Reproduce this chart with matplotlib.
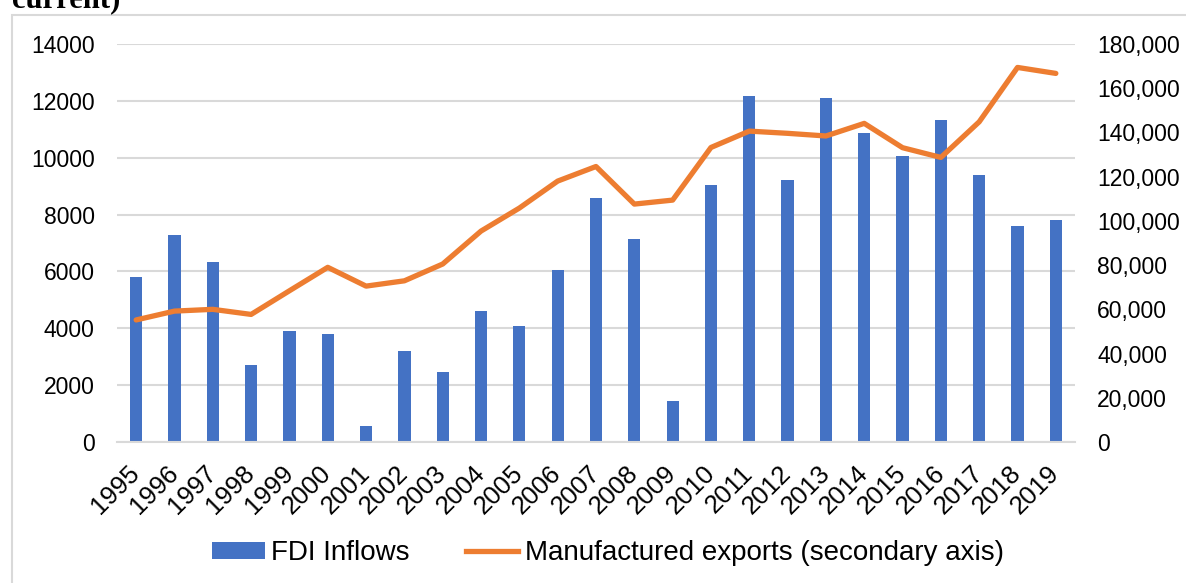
import numpy as np
import matplotlib.pyplot as plt
from matplotlib.patches import Rectangle, Patch
from matplotlib.lines import Line2D
from matplotlib.ticker import FuncFormatter

years = [str(y) for y in range(1995, 2020)]
fdi_inflows = [5800, 7280, 6320, 2710, 3900, 3800, 560, 3200, 2460, 4610,
               4080, 6050, 8580, 7150, 1450, 9050, 12180, 9215, 12090, 10870,
               10060, 11315, 9380, 7610, 7800]
manuf_exports = [55200, 59200, 60000, 57700, 68400, 79000, 70500, 72900, 80500, 95400,
                 105800, 118000, 124600, 107600, 109400, 133200, 140600, 139600, 138400, 144100,
                 133100, 128700, 144800, 169400, 166700]

blue = "#4472C4"
orange = "#ED7D31"
grid_col = "#D9D9D9"

plt.rcParams['font.family'] = ['Liberation Sans', 'DejaVu Sans']

W, H = 1186, 583
fig = plt.figure(figsize=(W / 100, H / 100), dpi=100)

# outer chart frame
fig.patches.append(Rectangle((12 / W, -0.1), 1.2, 1 - 15 / H + 0.1, transform=fig.transFigure,
                             fill=False, edgecolor=grid_col, linewidth=1.5))

# caption cut off at the top, as in the source
fig.text(12 / W, 1 - 7 / H, "current)", family=['Liberation Serif', 'DejaVu Serif'],
         fontweight='bold', fontsize=22, va='baseline', ha='left')

ax = fig.add_axes([117 / W, 1 - 442 / H, (1075 - 117) / W, (442 - 44) / H])
x = np.arange(len(years))
ax.bar(x, fdi_inflows, width=0.32, color=blue, zorder=2)
ax.set_xlim(-0.5, len(years) - 0.5)
ax.set_ylim(0, 14000)
ax.set_yticks(np.arange(0, 14001, 2000))
ax.yaxis.grid(True, color=grid_col, linewidth=1.5, zorder=0)
ax.set_axisbelow(True)
for s in ['top', 'right', 'left']:
    ax.spines[s].set_visible(False)
ax.spines['bottom'].set_color(grid_col)
ax.spines['bottom'].set_linewidth(1.5)
ax.tick_params(axis='y', length=0, labelsize=16.5, pad=16)
ax.set_xticks(x)
ax.set_xticklabels(years, rotation=45, ha='right', va='center', rotation_mode='anchor')
ax.tick_params(axis='x', length=0, labelsize=18.5, pad=20)

ax2 = ax.twinx()
ax2.plot(x, manuf_exports, color=orange, linewidth=3.8, solid_capstyle='round', zorder=3)
ax2.set_ylim(0, 180000)
ax2.set_yticks(np.arange(0, 180001, 20000))
ax2.yaxis.set_major_formatter(FuncFormatter(lambda v, p: f"{int(v):,}"))
for s in ['top', 'right', 'left', 'bottom']:
    ax2.spines[s].set_visible(False)
ax2.tick_params(axis='y', length=0, labelsize=16.5, pad=16)

handles = [Patch(facecolor=blue, edgecolor='none'),
           Line2D([0], [0], color=orange, linewidth=3.8)]
fig.legend(handles, ["FDI Inflows", "Manufactured exports (secondary axis)"],
           loc='center', bbox_to_anchor=(608 / W, 1 - 553 / H), ncol=2, frameon=False,
           fontsize=20, handlelength=1.9, handleheight=0.55, handletextpad=0.25,
           columnspacing=2.0)

fig.savefig("out.png", dpi=100)
